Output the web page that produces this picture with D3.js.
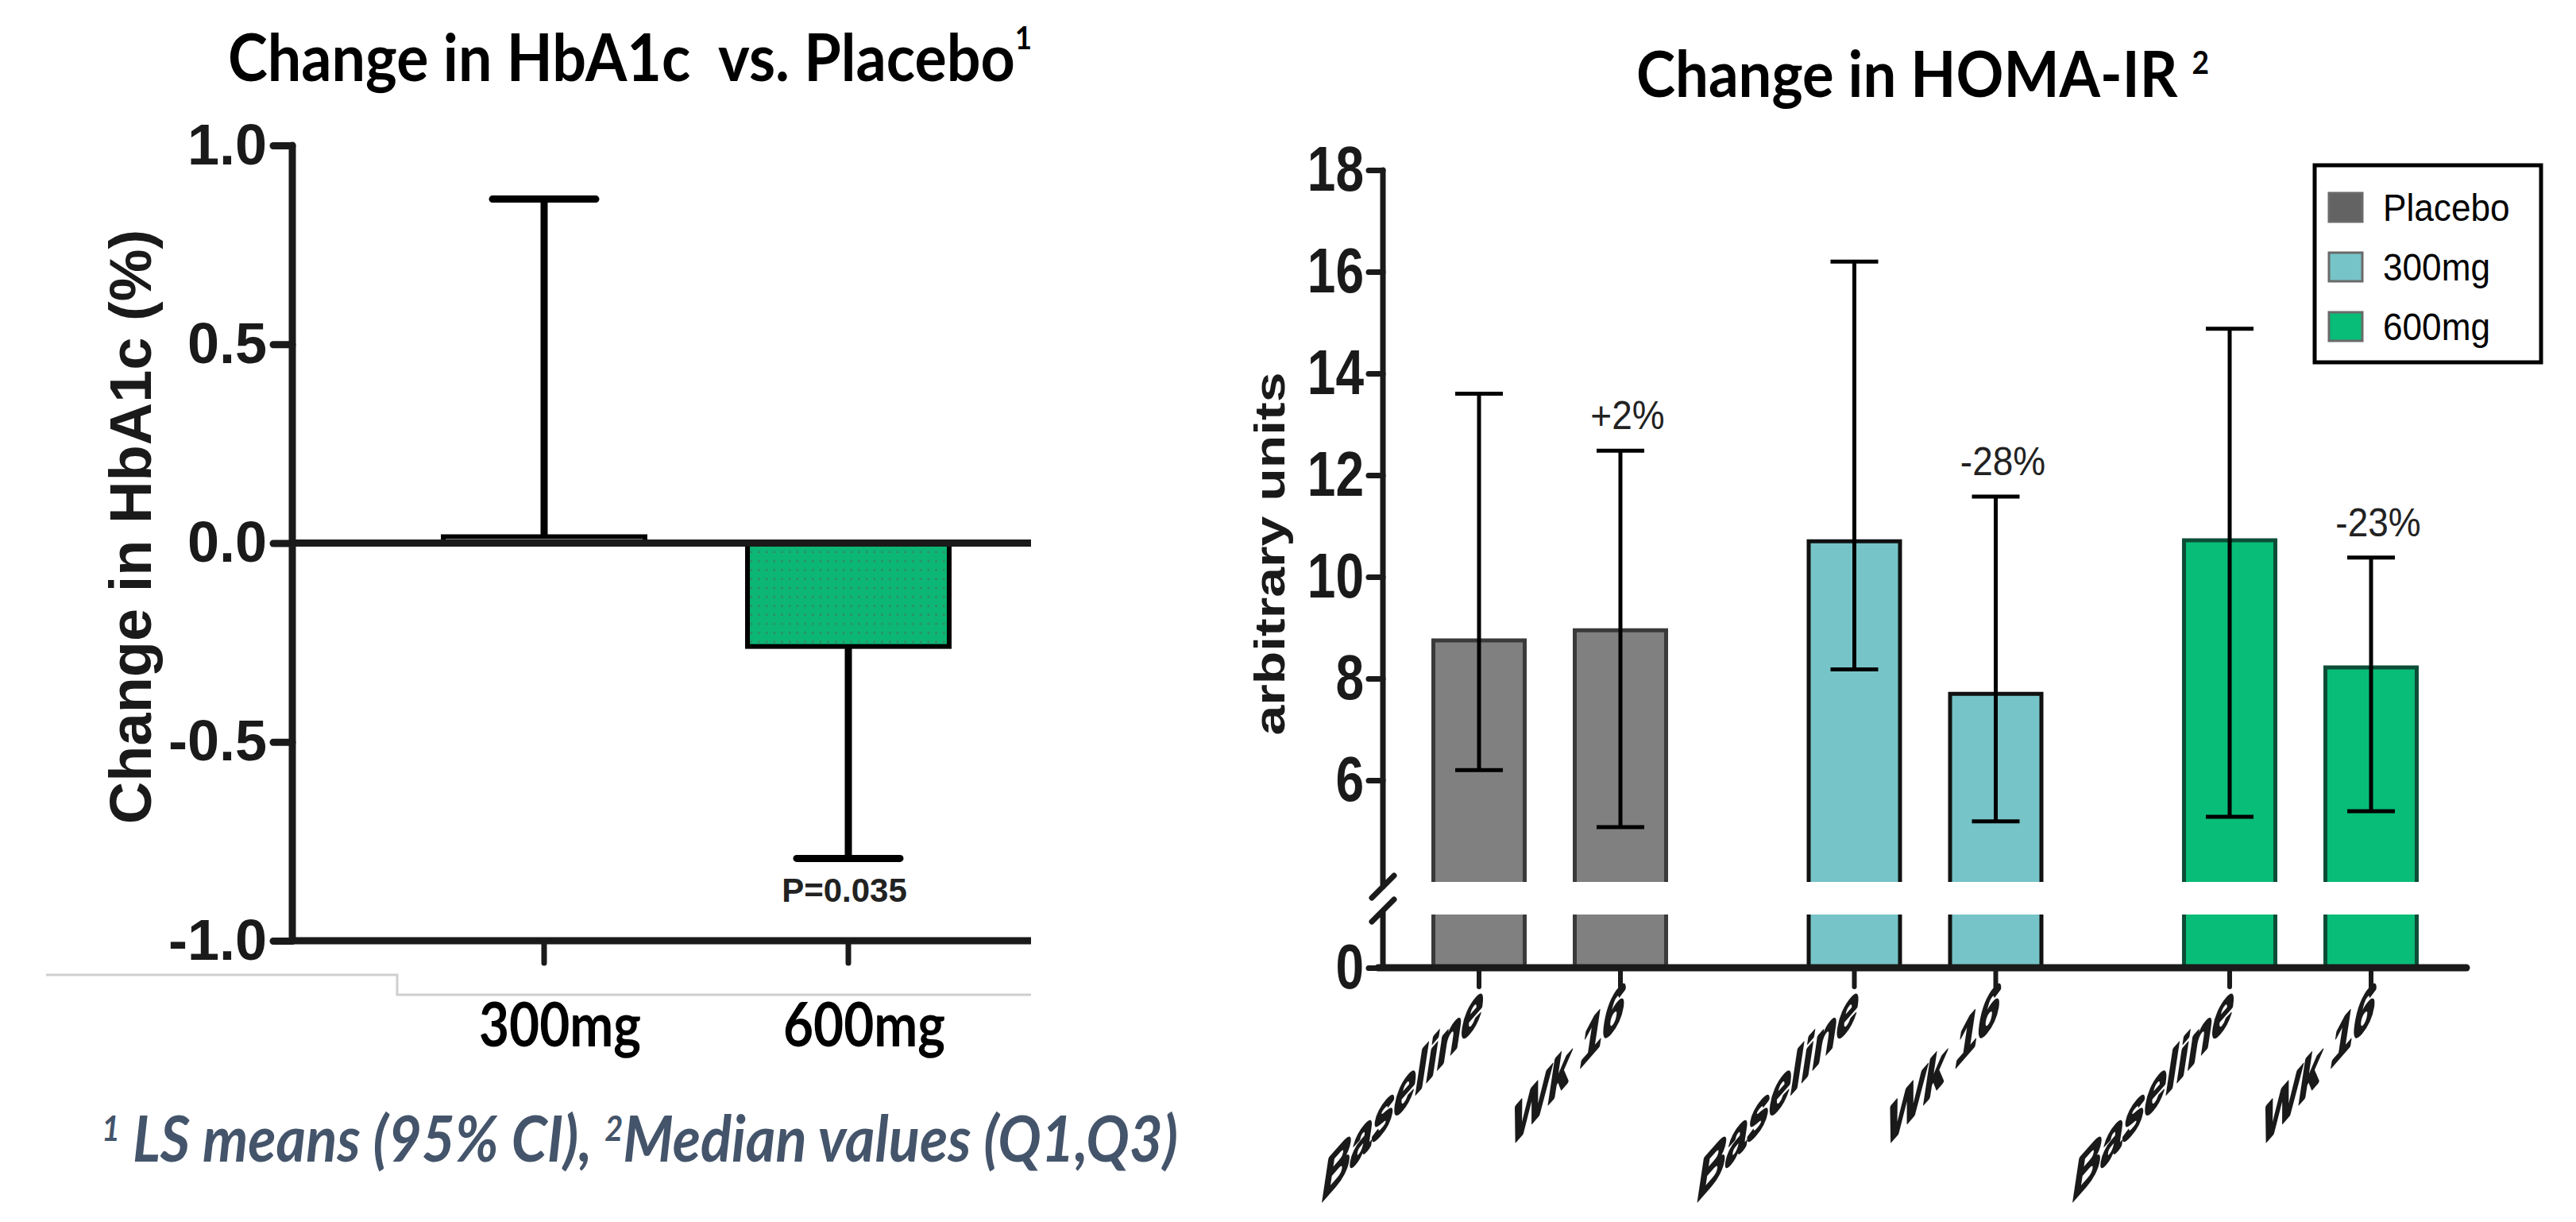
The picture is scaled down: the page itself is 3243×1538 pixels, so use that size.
<!DOCTYPE html>
<html><head><meta charset="utf-8">
<script src="https://cdn.jsdelivr.net/npm/d3@7"></script>
<style>html,body{margin:0;padding:0;background:#fff;} svg{display:block;}</style>
</head><body>
<svg id="chart" width="3243" height="1538"></svg>
<script>
// ---------- data ----------
const hbaCategories = ["300mg", "600mg"];
const hbaMeans = [0.016, -0.26];
const hbaCIEnds = [0.865, -0.793];
const hbaTicks = [-1.0, -0.5, 0.0, 0.5, 1.0];
const hbaNotes = ["", "P=0.035"];

const homaGroups = ["Placebo", "300mg", "600mg"];
const homaTimepoints = ["Baseline", "Wk 16"];
const homaMedian = [[8.75, 8.95], [10.7, 7.7], [10.72, 8.22]];
const homaQ1 = [[6.2, 5.08], [8.18, 5.19], [5.28, 5.39]];
const homaQ3 = [[13.6, 12.48], [16.2, 11.58], [14.88, 10.38]];
const homaChange = [["", "+2%"], ["", "-28%"], ["", "-23%"]];
const homaTicksUpper = [6, 8, 10, 12, 14, 16, 18];
const homaTicksLower = [0];

// ---------- styles ----------
const barFill = ["#808080", "#76c4c7", "#08bd78"];
const barStroke = ["#3a3a3a", "#111111", "#0d4d37"];
const legendFill = ["#636363", "#76c4c7", "#08bd78"];
const ink = "#1a1a1a";
const sans = "'Liberation Sans', Arial, sans-serif";
const titleFont = "Lato, 'Open Sans', sans-serif";

const svg = d3.select("#chart");
const defs = svg.append("defs");
const pat = defs.append("pattern").attr("id", "dots").attr("patternUnits", "userSpaceOnUse")
  .attr("width", 9.7).attr("height", 11.3);
pat.append("rect").attr("width", 9.7).attr("height", 11.3).attr("fill", "#0cb674");
pat.append("circle").attr("cx", 4.8).attr("cy", 5.6).attr("r", 1.3).attr("fill", "#3b7f63");

// ---------- LEFT CHART ----------
const yL = d3.scaleLinear().domain([-1, 1]).range([1184, 183]);
const xL = d3.scaleBand().domain(hbaCategories).range([493.5, 1259.5]).paddingInner(0.337).paddingOuter(0.1685);
const axL = 368, rightL = 1298;
const left = svg.append("g");

// faint artefact lines
left.append("path").attr("d", "M58,1227H500V1252H1298").attr("fill", "none").attr("stroke", "#cfcfcf").attr("stroke-width", 3);

// bars
hbaCategories.forEach((c, i) => {
  const v = hbaMeans[i];
  const y0 = yL(Math.max(0, v)), y1 = yL(Math.min(0, v));
  left.append("rect").attr("x", xL(c)).attr("y", y0).attr("width", xL.bandwidth()).attr("height", y1 - y0)
    .attr("fill", v < 0 ? "url(#dots)" : "#fff").attr("stroke", "#000").attr("stroke-width", 6);
});
// error bars (one-sided)
hbaCategories.forEach((c, i) => {
  const cx = xL(c) + xL.bandwidth() / 2;
  left.append("line").attr("x1", cx).attr("x2", cx).attr("y1", yL(hbaMeans[i])).attr("y2", yL(hbaCIEnds[i]))
    .attr("stroke", "#000").attr("stroke-width", 9);
  left.append("line").attr("x1", cx - 65).attr("x2", cx + 65).attr("y1", yL(hbaCIEnds[i])).attr("y2", yL(hbaCIEnds[i]))
    .attr("stroke", "#000").attr("stroke-width", 9).attr("stroke-linecap", "round");
  if (hbaNotes[i]) {
    left.append("text").attr("x", cx - 5).attr("y", yL(hbaCIEnds[i]) + 55).attr("text-anchor", "middle")
      .attr("font-family", sans).attr("font-weight", "bold").attr("font-size", 42).attr("fill", "#222")
      .text(hbaNotes[i]);
  }
});
// zero and bottom lines
[0, -1].forEach(v => {
  left.append("line").attr("x1", axL).attr("x2", rightL).attr("y1", yL(v)).attr("y2", yL(v))
    .attr("stroke", ink).attr("stroke-width", 9);
});
// y axis
const gyL = left.append("g").attr("transform", `translate(${axL},0)`)
  .call(d3.axisLeft(yL).tickValues(hbaTicks).tickFormat(d => d.toFixed(1)).tickSize(24).tickPadding(8));
gyL.select(".domain").remove();
gyL.selectAll(".tick line").attr("stroke", ink).attr("stroke-width", 9).attr("stroke-linecap", "round");
gyL.selectAll(".tick text").attr("font-family", sans).attr("font-weight", "bold").attr("font-size", 72).attr("fill", ink);
left.append("line").attr("x1", axL).attr("x2", axL).attr("y1", yL(1)).attr("y2", yL(-1))
  .attr("stroke", ink).attr("stroke-width", 9).attr("stroke-linecap", "round");
// x ticks
hbaCategories.forEach(c => {
  const cx = xL(c) + xL.bandwidth() / 2;
  left.append("line").attr("x1", cx).attr("x2", cx).attr("y1", yL(-1)).attr("y2", yL(-1) + 28)
    .attr("stroke", ink).attr("stroke-width", 7).attr("stroke-linecap", "round");
  left.append("text").attr("x", cx + 20).attr("y", 1317).attr("text-anchor", "middle")
    .attr("font-family", titleFont).attr("font-weight", "bold").attr("font-size", 76)
    .attr("textLength", 204).attr("lengthAdjust", "spacingAndGlyphs").attr("fill", "#000").text(c);
});
// y title
left.append("text").attr("transform", "translate(190,663) rotate(-90)").attr("text-anchor", "middle")
  .attr("font-family", sans).attr("font-weight", "bold").attr("font-size", 74).attr("fill", ink)
  .text("Change in HbA1c (%)");
// title
const tl = left.append("text").attr("x", 287).attr("y", 102).attr("font-family", titleFont).attr("font-weight", "bold")
  .attr("font-size", 82).attr("fill", "#000").attr("textLength", 1012).attr("lengthAdjust", "spacingAndGlyphs")
  .style("white-space", "pre");
tl.append("tspan").text("Change in HbA1c  vs. Placebo");
tl.append("tspan").attr("font-size", 40).attr("dy", -40).text("1");

// footnote
const fn = svg.append("text").attr("x", 128).attr("y", 1462).attr("font-family", titleFont).attr("font-weight", "bold")
  .attr("font-style", "italic").attr("font-size", 80).attr("fill", "#44546a")
  .attr("textLength", 1355).attr("lengthAdjust", "spacingAndGlyphs").style("white-space", "pre");
fn.append("tspan").attr("font-size", 44).attr("dy", -26).text("1");
fn.append("tspan").attr("dy", 26).text(" LS means (95% CI), ");
fn.append("tspan").attr("font-size", 44).attr("dy", -26).text("2");
fn.append("tspan").attr("dy", 26).text("Median values (Q1,Q3)");

// ---------- RIGHT CHART ----------
const yU = d3.scaleLinear().domain([4, 18]).range([1110, 214]);
const yLo = d3.scaleLinear().domain([0, 1]).range([1218, 1151]);
const xG = d3.scaleBand().domain(homaGroups).range([1714.75, 3132.25]);
const xT = d3.scaleBand().domain(homaTimepoints).range([58.25, 414.25]);
const barW = xT.bandwidth() * 0.646;
const axR = 1741, rightR = 3105;
const right = svg.append("g");
const cxOf = (g, t) => xG(g) + xT(t) + xT.bandwidth() / 2;

homaGroups.forEach((g, gi) => {
  homaTimepoints.forEach((t, ti) => {
    const cx = cxOf(g, t), x0 = cx - barW / 2, x1 = cx + barW / 2;
    const top = yU(homaMedian[gi][ti]), brk = yU(4);
    right.append("rect").attr("x", x0).attr("y", top).attr("width", barW).attr("height", brk - top).attr("fill", barFill[gi]);
    right.append("path").attr("d", `M${x0},${brk}V${top}H${x1}V${brk}`).attr("fill", "none")
      .attr("stroke", barStroke[gi]).attr("stroke-width", 5);
    right.append("rect").attr("x", x0).attr("y", yLo(1)).attr("width", barW).attr("height", yLo(0) - yLo(1)).attr("fill", barFill[gi]);
    right.append("path").attr("d", `M${x0},${yLo(1)}V${yLo(0)}M${x1},${yLo(1)}V${yLo(0)}`).attr("fill", "none")
      .attr("stroke", barStroke[gi]).attr("stroke-width", 5);
    // error bar
    const yq1 = yU(homaQ1[gi][ti]), yq3 = yU(homaQ3[gi][ti]);
    right.append("path").attr("d", `M${cx},${yq1}V${yq3}M${cx - 30},${yq3}H${cx + 30}M${cx - 30},${yq1}H${cx + 30}`)
      .attr("fill", "none").attr("stroke", "#000").attr("stroke-width", 5);
    if (homaChange[gi][ti]) {
      right.append("text").attr("transform", `translate(${cx + 9},${yq3 - 27}) scale(0.92,1)`).attr("text-anchor", "middle")
        .attr("font-family", sans).attr("font-size", 50).attr("fill", "#222").text(homaChange[gi][ti]);
    }
    // x tick + label
    right.append("line").attr("x1", cx).attr("x2", cx).attr("y1", yLo(0)).attr("y2", yLo(0) + 24)
      .attr("stroke", ink).attr("stroke-width", 6).attr("stroke-linecap", "round");
    right.append("text").attr("transform", `matrix(0.63,-0.72,-0.15,1.0,${cx + 2},1284)`).attr("text-anchor", "end")
      .attr("font-family", sans).attr("font-weight", "bold").attr("font-size", 78).attr("fill", ink)
      .attr("stroke", ink).attr("stroke-width", 3.5).attr("stroke-linejoin", "round").text(t);
  });
});

// axes
const styleRAxis = g => {
  g.select(".domain").remove();
  g.selectAll(".tick line").attr("stroke", ink).attr("stroke-width", 7).attr("stroke-linecap", "round");
  g.selectAll(".tick text").attr("font-family", sans).attr("font-weight", "bold").attr("font-size", 80).attr("fill", ink)
    .attr("x", 0).attr("transform", "translate(-24,0) scale(0.8,1)");
};
const gyU = right.append("g").attr("transform", `translate(${axR},0)`)
  .call(d3.axisLeft(yU).tickValues(homaTicksUpper).tickFormat(d3.format("d")).tickSize(18).tickPadding(6));
styleRAxis(gyU);
const gyLo = right.append("g").attr("transform", `translate(${axR},0)`)
  .call(d3.axisLeft(yLo).tickValues(homaTicksLower).tickFormat(d3.format("d")).tickSize(18).tickPadding(6));
styleRAxis(gyLo);
right.append("path").attr("d", `M${axR},${yU(18)}V1116M${axR - 14},1130L${axR + 14},1102M${axR - 14},1160L${axR + 14},1132M${axR},1146V${yLo(0)}`)
  .attr("fill", "none").attr("stroke", ink).attr("stroke-width", 7).attr("stroke-linecap", "round");
right.append("line").attr("x1", axR - 6).attr("x2", rightR).attr("y1", yLo(0)).attr("y2", yLo(0))
  .attr("stroke", ink).attr("stroke-width", 9).attr("stroke-linecap", "round");

// y title
right.append("text").attr("transform", "translate(1617,697) scale(0.8,1) rotate(-90)").attr("text-anchor", "middle")
  .attr("font-family", sans).attr("font-weight", "bold").attr("font-size", 68).attr("fill", ink).text("arbitrary units");

// legend
const lg = right.append("g");
lg.append("rect").attr("x", 2914).attr("y", 208).attr("width", 285).attr("height", 248)
  .attr("fill", "#fff").attr("stroke", "#000").attr("stroke-width", 5);
homaGroups.forEach((g, i) => {
  const cy = 261 + i * 75;
  lg.append("rect").attr("x", 2932).attr("y", cy - 18).attr("width", 42).attr("height", 36)
    .attr("fill", legendFill[i]).attr("stroke", "#6a6a6a").attr("stroke-width", 3);
  lg.append("text").attr("transform", `translate(3000,${cy + 17}) scale(0.92,1)`)
    .attr("font-family", sans).attr("font-size", 48).attr("fill", "#000").text(g);
});

// title
const tr = right.append("text").attr("x", 2060).attr("y", 122).attr("font-family", titleFont).attr("font-weight", "bold")
  .attr("font-size", 80).attr("fill", "#000").attr("textLength", 721).attr("lengthAdjust", "spacingAndGlyphs")
  .style("white-space", "pre");
tr.append("tspan").text("Change in HOMA-IR ");
tr.append("tspan").attr("font-size", 40).attr("dy", -29).text("2");
</script>
</body></html>
